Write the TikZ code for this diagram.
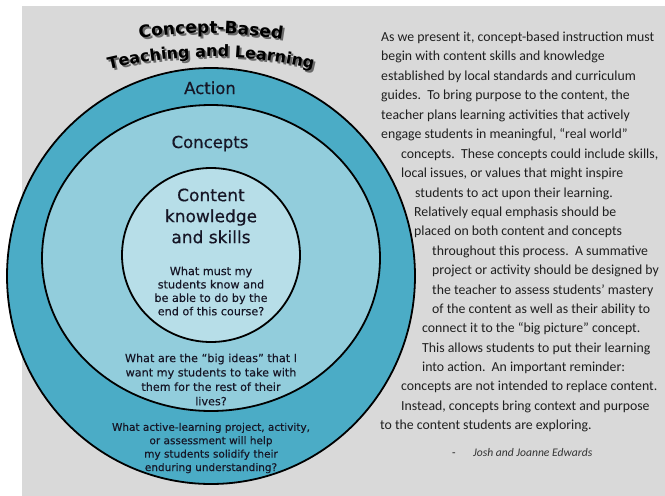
\documentclass[tikz,border=0pt]{standalone}
\usepackage{fontspec}
\usetikzlibrary{decorations.text}
\newfontfamily\labelfont{DejaVu Sans}[FakeBold=0.5]
\newfontfamily\askfont{DejaVu Sans}[FakeBold=0.25]
\newfontfamily\headfont{DejaVu Sans}
\newfontfamily\bodyfont{Carlito}
\definecolor{panelgray}{RGB}{217,217,217}
\definecolor{actionblue}{RGB}{75,172,198}
\definecolor{conceptblue}{RGB}{146,205,220}
\definecolor{contentblue}{RGB}{183,222,232}
\definecolor{ink}{RGB}{22,22,38}
\definecolor{shadowgray}{RGB}{105,105,105}

\begin{document}
\begin{tikzpicture}[x=1pt,y=-1pt,
  ring/.style={draw=black, line width=1.8pt},
  ringlabel/.style={font=\labelfont\fontsize{16.5}{20}\selectfont, text=ink, inner sep=0pt, anchor=base},
  question/.style={text=ink, align=center, inner sep=0pt},
  bodyline/.style={font=\bodyfont\fontsize{13.8}{16}\selectfont, text=black!88, anchor=base west, inner sep=0pt},
  titlearc/.style={decorate, decoration={text along path, text align=center, text={#1}}},
]
\useasboundingbox (0,0) rectangle (665,496);
\fill[white] (0,0) rectangle (665,496);
\fill[panelgray] (22,6) rectangle (665,496);

% nested rings: action, concepts, content
\draw[ring, fill=actionblue] (211,276) ellipse [x radius=204, y radius=208];
\draw[ring, fill=conceptblue] (211,258) ellipse [x radius=169, y radius=153];
\draw[ring, fill=contentblue] (211,255) ellipse [x radius=89, y radius=87];

% arched title with its drop shadow
\path[titlearc={|\headfont\bfseries\fontsize{17}{20}\selectfont\color{shadowgray}|Concept-Based}]
  (122,45) .. controls (177,31.9) and (241,31.9) .. (304,45);
\path[titlearc={|\headfont\bfseries\fontsize{17}{20}\selectfont\color{black}|Concept-Based}]
  (120,43) .. controls (175,29.9) and (239,29.9) .. (302,43);
\path[titlearc={|\headfont\bfseries\fontsize{16}{19}\selectfont\color{shadowgray}|Teaching and Learning}]
  (103,73) .. controls (176,54.3) and (250,54.3) .. (323,73);
\path[titlearc={|\headfont\bfseries\fontsize{16}{19}\selectfont\color{black}|Teaching and Learning}]
  (101,71) .. controls (174,52.3) and (248,52.3) .. (321,71);

% ring labels
\node[ringlabel] (action) at (210,94) {Action};
\node[ringlabel] (concepts) at (210,148) {Concepts};
\node[question, font=\labelfont\fontsize{17}{21}\selectfont] (content) at (211,216)
  {Content\\knowledge\\and skills};
\node[question, font=\askfont\fontsize{11.2}{13.4}\selectfont] (q1) at (211,291)
  {What must my\\students know and\\be able to do by the\\end of this course?};
\node[question, font=\askfont\fontsize{11.2}{14.4}\selectfont] (q2) at (211,379.5)
  {What are the “big ideas” that I\\want my students to take with\\them for the rest of their\\lives?};
\node[question, font=\askfont\fontsize{10.5}{13.4}\selectfont] (q3) at (211,448)
  {What active-learning project, activity,\\or assessment will help\\my students solidify their\\enduring understanding?};

% quotation set around the rings
\node[bodyline] (l1) at (381,41) {As we present it, concept-based instruction must};
\node[bodyline] (l2) at (381,60.5) {begin with content skills and knowledge};
\node[bodyline] (l3) at (381,80) {established by local standards and curriculum};
\node[bodyline] (l4) at (381,99.5) {guides.\ \ To bring purpose to the content, the};
\node[bodyline] (l5) at (381,119) {teacher plans learning activities that actively};
\node[bodyline] (l6) at (381,138.5) {engage students in meaningful, “real world”};
\node[bodyline] (l7) at (401,158) {concepts.\ \ These concepts could include skills,};
\node[bodyline] (l8) at (401,177.5) {local issues, or values that might inspire};
\node[bodyline] (l9) at (415,197) {students to act upon their learning.};
\node[bodyline] (l10) at (414,216) {Relatively equal emphasis should be};
\node[bodyline] (l11) at (414,235.5) {placed on both content and concepts};
\node[bodyline] (l12) at (432,255) {throughout this process.\ \ A summative};
\node[bodyline] (l13) at (432,274.5) {project or activity should be designed by};
\node[bodyline] (l14) at (432,294) {the teacher to assess students’ mastery};
\node[bodyline] (l15) at (432,313) {of the content as well as their ability to};
\node[bodyline] (l16) at (422,332.5) {connect it to the “big picture” concept.};
\node[bodyline] (l17) at (422,352) {This allows students to put their learning};
\node[bodyline] (l18) at (422,371) {into action.\ \ An important reminder:};
\node[bodyline] (l19) at (401,390.5) {concepts are not intended to replace content.};
\node[bodyline] (l20) at (401,410) {Instead, concepts bring context and purpose};
\node[bodyline] (l21) at (380,429) {to the content students are exploring.};
\node[bodyline, font=\bodyfont\fontsize{11.5}{13}\selectfont] (dash) at (452,456) {-};
\node[bodyline, font=\bodyfont\itshape\fontsize{11.6}{13}\selectfont, text=black!80] (author) at (473,456)
  {Josh and Joanne Edwards};
\end{tikzpicture}
\end{document}
